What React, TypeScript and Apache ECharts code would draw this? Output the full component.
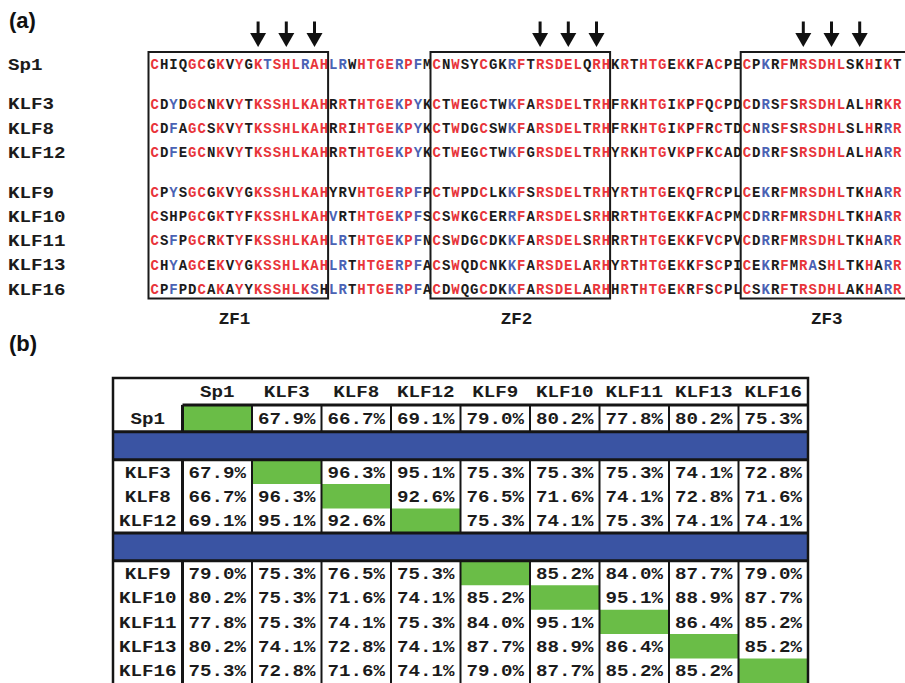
import React, { useEffect, useRef } from "react";
import * as echarts from "echarts";

// ---------------- data ----------------
const proteins = ["Sp1", "KLF3", "KLF8", "KLF12", "KLF9", "KLF10", "KLF11", "KLF13", "KLF16"];
const proteinGroups = [1, 3, 5];

const sequences = [
  "CHIQGCGKVYGKTSHLRAH" + "LRWHTGERPFM" + "CNWSYCGKRFTRSDELQRH" + "KRTHTGEKKFACPE" + "CPKRFMRSDHLSKHIKT",
  "CDYDGCNKVYTKSSHLKAH" + "RRTHTGEKPYK" + "CTWEGCTWKFARSDELTRH" + "FRKHTGIKPFQCPD" + "CDRSFSRSDHLALHRKR",
  "CDFAGCSKVYTKSSHLKAH" + "RRIHTGEKPYK" + "CTWDGCSWKFARSDELTRH" + "FRKHTGIKPFRCTD" + "CNRSFSRSDHLSLHRRR",
  "CDFEGCNKVYTKSSHLKAH" + "RRTHTGEKPYK" + "CTWEGCTWKFGRSDELTRH" + "YRKHTGVKPFKCAD" + "CDRRFSRSDHLALHARR",
  "CPYSGCGKVYGKSSHLKAH" + "YRVHTGERPFP" + "CTWPDCLKKFSRSDELTRH" + "YRTHTGEKQFRCPL" + "CEKRFMRSDHLTKHARR",
  "CSHPGCGKTYFKSSHLKAH" + "VRTHTGEKPFS" + "CSWKGCERRFARSDELSRH" + "RRTHTGEKKFACPM" + "CDRRFMRSDHLTKHARR",
  "CSFPGCRKTYFKSSHLKAH" + "LRTHTGEKPFN" + "CSWDGCDKKFARSDELSRH" + "RRTHTGEKKFVCPV" + "CDRRFMRSDHLTKHARR",
  "CHYAGCEKVYGKSSHLKAH" + "LRTHTGERPFA" + "CSWQDCNKKFARSDELARH" + "YRTHTGEKKFSCPI" + "CEKRFMRASHLTKHARR",
  "CPFPDCAKAYYKSSHLKSH" + "LRTHTGERPFA" + "CDWQGCDKKFARSDELARH" + "HRTHTGEKRFSCPL" + "CSKRFTRSDHLAKHARR",
];

// r = red (identical), b = blue (similar), k = black
const residueClasses = [
  "rkkkrrkrkrkrbrrrbrr" + "bbkrrrrbrbk" + "rkrkkrkkbrkrrrrrkrr" + "krkrrrkrkrkrkk" + "rkbkrkrrrrrkkrkrk",
  "rkbkrrkrkrkrrrrrrrr" + "krkrrrrbrbk" + "rkrkkrkkbrkrrrrrkrr" + "krkrrrkrkrkrkk" + "rkbkrkrrrrrkkrkrr",
  "rkbkrrkrkrkrrrrrrrr" + "krkrrrrbrbk" + "rkrkkrkkbrkrrrrrkrr" + "krkrrrkrkrkrkk" + "rkbkrkrrrrrkkrkbr",
  "rkbkrrkrkrkrrrrrrrr" + "krkrrrrbrbk" + "rkrkkrkkbrkrrrrrkrr" + "krkrrrkrkrkrkk" + "rkbkrkrrrrrkkrkbr",
  "rkbkrrkrkrkrrrrrrrr" + "kkkrrrrbrbk" + "rkrkkrkkbrkrrrrrkrr" + "krkrrrkrkrkrkk" + "rkbkrkrrrrrkkrkbr",
  "rkkkrrkrkrkrrrrrrrr" + "bkkrrrrbrbk" + "rkrkkrkkbrkrrrrrkrr" + "krkrrrkrkrkrkk" + "rkbkrkrrrrrkkrkbr",
  "rkbkrrkrkrkrrrrrrrr" + "bbkrrrrbrbk" + "rkrkkrkkbrkrrrrrkrr" + "krkrrrkrkrkrkk" + "rkbkrkrrrrrkkrkbr",
  "rkbkrrkrkrkrrrrrrrr" + "bbkrrrrbrbk" + "rkrkkrkkbrkrrrrrkrr" + "krkrrrkrkrkrkk" + "rkbkrkrbkrrkkrkbr",
  "rkbkkrkrkrkrrrrrrbk" + "bbkrrrrbrbk" + "rkrkkrkkbrkrrrrrkrr" + "krkrrrkrkrkrkk" + "rkbkrkrrrrrkkrkbr",
];

const domainNames = ["ZF1", "ZF2", "ZF3"];
const domainStarts = [0, 30, 63];
const domainEnds = [19, 49, 81];
const contactResidues = [11, 14, 17, 41, 44, 47, 69, 72, 75];

const identity: (number | null)[][] = [
  [null, 67.9, 66.7, 69.1, 79.0, 80.2, 77.8, 80.2, 75.3],
  [67.9, null, 96.3, 95.1, 75.3, 75.3, 75.3, 74.1, 72.8],
  [66.7, 96.3, null, 92.6, 76.5, 71.6, 74.1, 72.8, 71.6],
  [69.1, 95.1, 92.6, null, 75.3, 74.1, 75.3, 74.1, 74.1],
  [79.0, 75.3, 76.5, 75.3, null, 85.2, 84.0, 87.7, 79.0],
  [80.2, 75.3, 71.6, 74.1, 85.2, null, 95.1, 88.9, 87.7],
  [77.8, 75.3, 74.1, 75.3, 84.0, 95.1, null, 86.4, 85.2],
  [80.2, 74.1, 72.8, 74.1, 87.7, 88.9, 86.4, null, 85.2],
  [75.3, 72.8, 71.6, 74.1, 79.0, 87.7, 85.2, 85.2, null],
];

// ---------------- style / layout ----------------
const RED = "#e8343a";
const BLUE = "#4a62b4";
const INK = "#1b1b1b";
const GREEN = "#6abd47";
const BAND = "#3a54a3";
const MONO = '"Liberation Mono", "DejaVu Sans Mono", monospace';
const classColor: Record<string, string> = { r: RED, b: BLUE, k: INK };

const CHAR_W = 9.4;
const ALIGN_LEFT = 150;
const ALIGN_WIDTH = 755;
const ROW_PX = 24.3;
const GROUP_GAP = 0.63;
const FIRST_ROW_Y = 65;

const TABLE_LEFT = 113;
const TABLE_TOP = 378;
const TABLE_WIDTH = 695;
const TROW_PX = 24.6;
const HEADER_H = 1.1;
const FIRST_H = 1.1;
const BAND_H = 1.14;

function buildOption() {
  // ----- alignment rows -----
  const rowValues: number[] = [];
  let idx = 0;
  proteinGroups.forEach((n, g) => {
    for (let k = 0; k < n; k++) {
      rowValues.push(idx + g * GROUP_GAP);
      idx++;
    }
  });
  const lastRow = rowValues[rowValues.length - 1];

  const residues: { col: number; row: number; ch: string; cls: string }[] = [];
  sequences.forEach((s, r) => {
    for (let c = 0; c < s.length; c++) {
      residues.push({ col: c, row: rowValues[r], ch: s[c], cls: residueClasses[r][c] });
    }
  });

  // ----- table rows -----
  const tRows: { idx: number; top: number; h: number }[] = [];
  const bands: [number, number][] = [];
  const blocks: [number, number][] = [];
  let y = 0;
  let ti = 0;
  proteinGroups.forEach((n, g) => {
    if (g > 0) {
      bands.push([y, y + BAND_H]);
      y += BAND_H;
    }
    const bTop = y;
    for (let k = 0; k < n; k++) {
      const h = g === 0 ? FIRST_H : 1;
      tRows.push({ idx: ti, top: y, h });
      y += h;
      ti++;
    }
    blocks.push([bTop, y]);
  });
  const tableMax = y;

  type Cell = { x: number; top: number; h: number; text: string; kind: string };
  const cells: Cell[] = [];
  proteins.forEach((p, c) => cells.push({ x: c, top: -HEADER_H, h: HEADER_H, text: p, kind: "header" }));
  tRows.forEach((r) => {
    cells.push({ x: -1, top: r.top, h: r.h, text: proteins[r.idx], kind: "label" });
    identity[r.idx].forEach((v, c) => {
      cells.push({
        x: c,
        top: r.top,
        h: r.h,
        text: v == null ? "" : v.toFixed(1) + "%",
        kind: v == null ? "diag" : "value",
      });
    });
  });

  const tableFont = `bold 17px ${MONO}`;

  return {
    animation: false,
    backgroundColor: "#ffffff",
    grid: [
      { left: ALIGN_LEFT, top: FIRST_ROW_Y - 2 * ROW_PX, width: ALIGN_WIDTH, height: 14 * ROW_PX },
      { left: TABLE_LEFT, top: TABLE_TOP, width: TABLE_WIDTH, height: (HEADER_H + tableMax) * TROW_PX },
    ],
    xAxis: [
      { gridIndex: 0, type: "value", min: 0, max: ALIGN_WIDTH / CHAR_W, show: false },
      { gridIndex: 1, type: "value", min: -1, max: 9, show: false },
    ],
    yAxis: [
      { gridIndex: 0, type: "value", min: -2, max: 12, inverse: true, show: false },
      { gridIndex: 1, type: "value", min: -HEADER_H, max: tableMax, inverse: true, show: false },
    ],
    graphic: [
      {
        type: "text",
        x: 9,
        y: 20,
        style: { text: "(a)", font: 'bold 22px "Liberation Sans", Arial, sans-serif', fill: "#111", verticalAlign: "middle" },
      },
      {
        type: "text",
        x: 9,
        y: 343,
        style: { text: "(b)", font: 'bold 22px "Liberation Sans", Arial, sans-serif', fill: "#111", verticalAlign: "middle" },
      },
    ],
    series: [
      {
        type: "custom",
        name: "residues",
        xAxisIndex: 0,
        yAxisIndex: 0,
        clip: false,
        silent: true,
        z: 2,
        encode: { x: 0, y: 1 },
        data: residues.map((d) => [d.col, d.row]),
        renderItem: (params: any, api: any) => {
          const d = residues[params.dataIndex];
          const p = api.coord([api.value(0) + 0.5, api.value(1)]);
          return {
            type: "text",
            x: p[0],
            y: p[1],
            style: {
              text: d.ch,
              fill: classColor[d.cls],
              font: `bold 14px ${MONO}`,
              align: "center",
              verticalAlign: "middle",
            },
          };
        },
      },
      {
        type: "custom",
        name: "names",
        xAxisIndex: 0,
        yAxisIndex: 0,
        clip: false,
        silent: true,
        z: 2,
        encode: { x: 0, y: 1 },
        data: rowValues.map((v) => [0, v]),
        renderItem: (params: any, api: any) => {
          const p = api.coord([api.value(0), api.value(1)]);
          return {
            type: "text",
            x: p[0] - 142,
            y: p[1],
            scaleX: 1.13,
            style: {
              text: proteins[params.dataIndex],
              fill: INK,
              font: `bold 17px ${MONO}`,
              align: "left",
              verticalAlign: "middle",
            },
          };
        },
      },
      {
        type: "custom",
        name: "domains",
        xAxisIndex: 0,
        yAxisIndex: 0,
        clip: false,
        silent: true,
        z: 4,
        encode: { x: [0, 1] },
        data: domainStarts.map((s, i) => [s, domainEnds[i]]),
        renderItem: (params: any, api: any) => {
          const a = api.coord([api.value(0), 0]);
          const b = api.coord([api.value(1), lastRow]);
          const lab = api.coord([api.value(0) + 9, lastRow]);
          const top = a[1] - 13;
          const bottom = b[1] + 8.5;
          return {
            type: "group",
            children: [
              {
                type: "rect",
                shape: { x: a[0] - 1.5, y: top, width: b[0] - a[0] + 1, height: bottom - top },
                style: { fill: "none", stroke: "#1a1a1a", lineWidth: 2 },
              },
              {
                type: "text",
                x: lab[0],
                y: lab[1] + 30,
                scaleX: 1.1,
                style: {
                  text: domainNames[params.dataIndex],
                  fill: INK,
                  font: `bold 16px ${MONO}`,
                  align: "center",
                  verticalAlign: "middle",
                },
              },
            ],
          };
        },
      },
      {
        type: "custom",
        name: "contacts",
        xAxisIndex: 0,
        yAxisIndex: 0,
        clip: false,
        silent: true,
        z: 4,
        encode: { x: 0, y: 1 },
        data: contactResidues.map((c) => [c, 0]),
        renderItem: (params: any, api: any) => {
          const p = api.coord([api.value(0) + 0.5, api.value(1)]);
          const cx = p[0];
          const y0 = p[1];
          return {
            type: "group",
            children: [
              { type: "rect", shape: { x: cx - 1.5, y: y0 - 43.5, width: 3, height: 13 }, style: { fill: "#111" } },
              {
                type: "polygon",
                shape: { points: [[cx - 8, y0 - 32], [cx + 8, y0 - 32], [cx, y0 - 18]] },
                style: { fill: "#111" },
              },
            ],
          };
        },
      },
      {
        type: "custom",
        name: "table",
        xAxisIndex: 1,
        yAxisIndex: 1,
        clip: false,
        silent: true,
        z: 2,
        encode: { x: 0, y: 1 },
        data: cells.map((c) => [c.x, c.top, c.h]),
        renderItem: (params: any, api: any) => {
          const cell = cells[params.dataIndex];
          const x0 = api.value(0);
          const t = api.value(1);
          const h = api.value(2);
          const a = api.coord([x0, t]);
          const b = api.coord([x0 + 1, t + h]);
          if (cell.kind === "diag") {
            return {
              type: "rect",
              shape: { x: a[0], y: a[1], width: b[0] - a[0], height: b[1] - a[1] },
              style: { fill: GREEN },
            };
          }
          return {
            type: "text",
            x: (a[0] + b[0]) / 2,
            y: (a[1] + b[1]) / 2 + 1,
            scaleX: 1.13,
            style: { text: cell.text, fill: INK, font: tableFont, align: "center", verticalAlign: "middle" },
          };
        },
      },
      {
        type: "custom",
        name: "frame",
        xAxisIndex: 1,
        yAxisIndex: 1,
        clip: false,
        silent: true,
        z: 5,
        encode: { x: 0, y: 1 },
        data: [[0, 0]],
        renderItem: (params: any, api: any) => {
          const X = (c: number) => api.coord([c, 0])[0];
          const Y = (v: number) => api.coord([0, v])[1];
          const children: any[] = [];
          const line = (x1: number, y1: number, x2: number, y2: number, w: number) =>
            children.push({
              type: "line",
              shape: { x1, y1, x2, y2 },
              style: { stroke: "#151515", lineWidth: w },
            });
          bands.forEach(([b0, b1]) => {
            children.push({
              type: "rect",
              shape: { x: X(-1), y: Y(b0), width: X(9) - X(-1), height: Y(b1) - Y(b0) },
              style: { fill: BAND },
            });
            line(X(-1), Y(b0), X(9), Y(b0), 3);
            line(X(-1), Y(b1), X(9), Y(b1), 3);
          });
          line(X(0), Y(0), X(9), Y(0), 3);
          blocks.forEach(([t0, t1]) => {
            line(X(0), Y(t0), X(0), Y(t1), 3);
            for (let c = 1; c < 9; c++) line(X(c), Y(t0), X(c), Y(t1), 2);
          });
          children.push({
            type: "rect",
            shape: {
              x: X(-1),
              y: Y(-HEADER_H),
              width: X(9) - X(-1),
              height: Y(tableMax) - Y(-HEADER_H) + 6,
            },
            style: { fill: "none", stroke: "#151515", lineWidth: 2.5 },
          });
          return { type: "group", children };
        },
      },
    ],
  };
}

export default function App() {
  const ref = useRef<HTMLDivElement>(null);
  useEffect(() => {
    if (!ref.current) return;
    const chart = echarts.init(ref.current, null, { renderer: "svg" });
    chart.setOption(buildOption() as any);
    return () => chart.dispose();
  }, []);
  return (
    <div
      ref={ref}
      style={{ position: "fixed", left: 0, top: 0, width: 905, height: 683, background: "#fff" }}
    />
  );
}
